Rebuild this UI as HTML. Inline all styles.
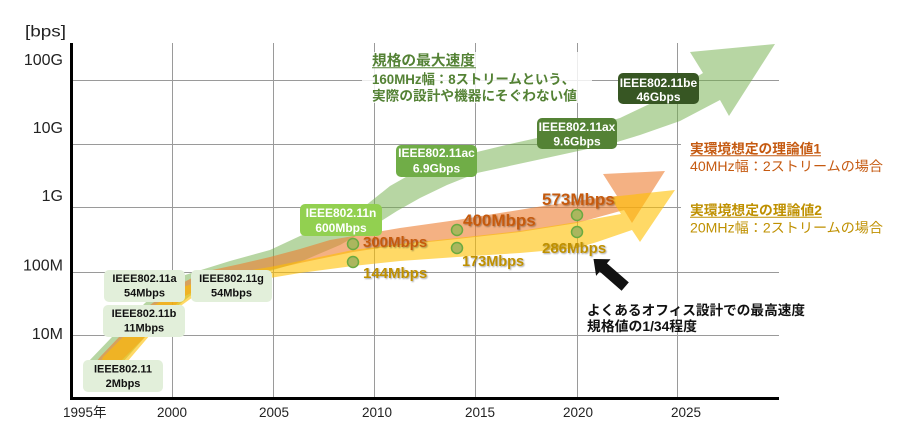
<!DOCTYPE html>
<html>
<head>
<meta charset="utf-8">
<style>
  html,body{margin:0;padding:0;background:#fff;}
  svg{display:block;}
  text{font-family:"Liberation Sans","Noto Sans CJK JP",sans-serif;}
</style>
</head>
<body>
<svg width="900" height="435" viewBox="0 0 900 435" xmlns="http://www.w3.org/2000/svg">
  <defs>
    <filter id="sh" x="-10%" y="-30%" width="130%" height="170%">
      <feDropShadow dx="1" dy="1" stdDeviation="0.7" flood-color="#000" flood-opacity="0.35"/>
    </filter>
  </defs>
  <rect x="0" y="0" width="900" height="435" fill="#fff"/>

  <!-- grid -->
  <g stroke="#9a9a9a" stroke-width="1">
    <line x1="172.5" y1="43" x2="172.5" y2="397"/>
    <line x1="273.5" y1="43" x2="273.5" y2="397"/>
    <line x1="374.5" y1="43" x2="374.5" y2="397"/>
    <line x1="475.5" y1="43" x2="475.5" y2="397"/>
    <line x1="577.5" y1="43" x2="577.5" y2="397"/>
    <line x1="677.5" y1="43" x2="677.5" y2="397"/>
    <line x1="73" y1="80.5" x2="779" y2="80.5"/>
    <line x1="73" y1="144.5" x2="779" y2="144.5"/>
    <line x1="73" y1="207.5" x2="779" y2="207.5"/>
    <line x1="73" y1="272.5" x2="779" y2="272.5"/>
    <line x1="73" y1="335.5" x2="779" y2="335.5"/>
  </g>

  <!-- text backgrounds -->
  <rect x="362" y="52" width="230" height="51" fill="#fff" opacity="0.82"/>
  <rect x="681" y="137" width="210" height="40" fill="#fff"/>
  <rect x="681" y="199" width="210" height="40" fill="#fff"/>

  <!-- bands -->
  <path fill="#70ad47" fill-opacity="0.5" d="M88,362 L112,337 L145,303 L165,287 L185,275 L230,261 L270,250 L300,236 L340,221 L365,206 L390,186 L420,169 L450,159 L477,152 L510,144 L537,138 L583,129 L620,118 L660,99 L703,73 L690,52 L775,44 L729,116 L720,100 L680,121 L640,135 L617,142 L583,150 L537,160 L477,173 L447,185 L420,198 L397,211 L370,228 L340,245 L300,262 L260,274 L220,283 L195,292 L170,312 L145,337 L123,362 Z"/>
  <path fill="#ed7d31" fill-opacity="0.6" d="M96,362 L100,357 L120,336 L150,305 L175,287 L203,272 L240,264 L270,257 L300,249 L330,240 L400,228 L457,220 L537,207 L590,199 L617,196 L603,174 L665,171 L632,223 L624,210 L577,223 L520,232 L457,239 L400,245 L353,252 L300,263 L270,270 L240,276 L210,284 L185,296 L165,315 L142,340 L120,362 Z"/>
  <path fill="#ffc000" fill-opacity="0.6" d="M101,362 L103,357 L123,337 L155,305 L180,288 L210,278 L240,272 L270,267 L310,259 L353,250 L400,244 L457,238 L520,231 L577,222 L621,214 L610,197 L675,190 L640,242 L632,230 L597,242 L577,248 L520,253 L457,257 L400,261 L353,266 L300,273 L270,278 L230,285 L200,292 L175,310 L150,335 L127,362 Z"/>

  <!-- data points -->
  <g fill="#abb65e" stroke="#6aaa40" stroke-width="1.5">
    <circle cx="353" cy="244" r="5.5"/>
    <circle cx="353" cy="262" r="5.5"/>
    <circle cx="457" cy="230" r="5.5"/>
    <circle cx="457" cy="248" r="5.5"/>
    <circle cx="577" cy="215" r="5.5"/>
    <circle cx="577" cy="232" r="5.5"/>
  </g>

  <!-- data labels -->
  <g font-weight="bold" filter="url(#sh)">
    <text x="363" y="247" font-size="15" fill="#c55a11">300Mbps</text>
    <text x="463" y="226" font-size="17" fill="#c55a11">400Mbps</text>
    <text x="542" y="205" font-size="17" fill="#c55a11">573Mbps</text>
    <text x="363" y="278" font-size="15" fill="#bf9000">144Mbps</text>
    <text x="462" y="266" font-size="14.5" fill="#bf9000">173Mbps</text>
    <text x="542" y="253" font-size="15" fill="#bf9000">286Mbps</text>
  </g>

  <!-- light boxes -->
  <g fill="#e2efda">
    <rect x="83" y="360" width="80" height="32" rx="5"/>
    <rect x="103" y="305" width="82" height="32" rx="5"/>
    <rect x="104" y="270" width="81" height="32" rx="5"/>
    <rect x="191" y="270" width="81" height="32" rx="5"/>
  </g>
  <g font-size="11" font-weight="bold" fill="#111" text-anchor="middle">
    <text x="123" y="372.5">IEEE802.11</text>
    <text x="123" y="387">2Mbps</text>
    <text x="144" y="317">IEEE802.11b</text>
    <text x="144" y="331.5">11Mbps</text>
    <text x="144.5" y="282">IEEE802.11a</text>
    <text x="144.5" y="296.5">54Mbps</text>
    <text x="231.5" y="282">IEEE802.11g</text>
    <text x="231.5" y="296.5">54Mbps</text>
  </g>

  <!-- dark boxes -->
  <rect x="300" y="204" width="82" height="32" rx="5" fill="#92d050"/>
  <rect x="396" y="145" width="81" height="32" rx="5" fill="#70ad47"/>
  <rect x="537" y="118" width="80" height="31" rx="5" fill="#548235"/>
  <rect x="618" y="73" width="81" height="31" rx="5" fill="#375623"/>
  <g font-size="12" font-weight="bold" fill="#fff" text-anchor="middle">
    <text x="341" y="217">IEEE802.11n</text>
    <text x="341" y="232">600Mbps</text>
    <text x="436.5" y="157">IEEE802.11ac</text>
    <text x="436.5" y="172.5">6.9Gbps</text>
    <text x="577" y="131">IEEE802.11ax</text>
    <text x="577" y="145.5">9.6Gbps</text>
    <text x="658.5" y="87">IEEE802.11be</text>
    <text x="658.5" y="101">46Gbps</text>
  </g>

  <!-- green annotation -->
  <g fill="#548235" font-weight="bold">
    <text x="372" y="65.5" font-size="14.5" textLength="103" lengthAdjust="spacingAndGlyphs">規格の最大速度</text>
    <text x="372" y="84" font-size="13.5" textLength="203" lengthAdjust="spacingAndGlyphs">160MHz幅：8ストリームという、</text>
    <text x="372" y="100.5" font-size="13.5" textLength="205" lengthAdjust="spacingAndGlyphs">実際の設計や機器にそぐわない値</text>
  </g>
  <line x1="372" y1="67.8" x2="476" y2="67.8" stroke="#548235" stroke-width="1"/>

  <!-- orange annotation -->
  <text x="690" y="153.5" font-size="13.5" font-weight="bold" fill="#c55a11" textLength="131" lengthAdjust="spacingAndGlyphs">実環境想定の理論値1</text>
  <line x1="690" y1="155.8" x2="821" y2="155.8" stroke="#c55a11" stroke-width="1"/>
  <text x="690" y="171" font-size="13.5" fill="#c55a11" textLength="193" lengthAdjust="spacingAndGlyphs">40MHz幅：2ストリームの場合</text>

  <!-- gold annotation -->
  <text x="690" y="215" font-size="13.5" font-weight="bold" fill="#bf9000" textLength="132" lengthAdjust="spacingAndGlyphs">実環境想定の理論値2</text>
  <line x1="690" y1="217.3" x2="822" y2="217.3" stroke="#bf9000" stroke-width="1"/>
  <text x="690" y="232.5" font-size="13.5" fill="#bf9000" textLength="193" lengthAdjust="spacingAndGlyphs">20MHz幅：2ストリームの場合</text>

  <!-- black arrow + note -->
  <polygon fill="#111" transform="translate(593.5,259) rotate(221)"
    points="0,0 -13,-11 -13,-5.5 -42,-5.5 -42,5.5 -13,5.5 -13,11"/>
  <g fill="#111" font-weight="bold" font-size="13.5">
    <text x="587" y="315" textLength="218" lengthAdjust="spacingAndGlyphs">よくあるオフィス設計での最高速度</text>
    <text x="587" y="331" textLength="110" lengthAdjust="spacingAndGlyphs">規格値の1/34程度</text>
  </g>

  <!-- axes -->
  <rect x="70" y="43" width="3" height="357" fill="#000"/>
  <rect x="70" y="397" width="709" height="3" fill="#000"/>

  <!-- y labels -->
  <g font-size="16" fill="#222">
    <text x="25" y="36.5" textLength="41" lengthAdjust="spacingAndGlyphs">[bps]</text>
    <g text-anchor="end">
      <text x="63" y="65">100G</text>
      <text x="63" y="133">10G</text>
      <text x="63" y="201">1G</text>
      <text x="63" y="270.5">100M</text>
      <text x="63" y="339">10M</text>
    </g>
  </g>

  <!-- x labels -->
  <g font-size="13.5" fill="#222">
    <text x="63" y="417">1995年</text>
    <g text-anchor="middle">
      <text x="172" y="417">2000</text>
      <text x="274" y="417">2005</text>
      <text x="377" y="417">2010</text>
      <text x="480" y="417">2015</text>
      <text x="578" y="417">2020</text>
      <text x="686" y="417">2025</text>
    </g>
  </g>
</svg>
</body>
</html>
